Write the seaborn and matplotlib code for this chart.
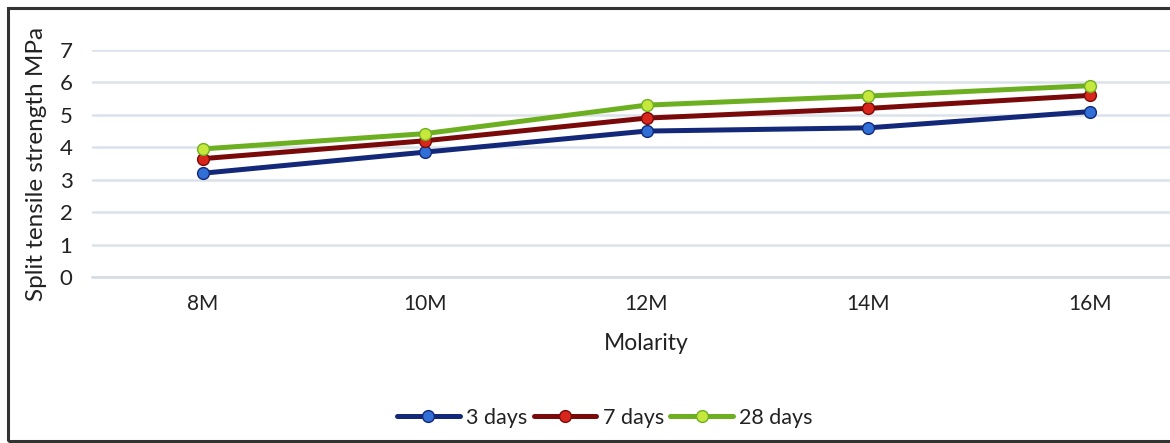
import pandas as pd
import seaborn as sns
import matplotlib.pyplot as plt
from matplotlib.patches import Rectangle
from matplotlib.ticker import FixedLocator

# chart data
molarity = ['8M', '10M', '12M', '14M', '16M']
days_3 = [3.2, 3.85, 4.5, 4.6, 5.1]
days_7 = [3.65, 4.2, 4.9, 5.2, 5.6]
days_28 = [3.95, 4.42, 5.3, 5.58, 5.9]
series_names = ['3 days', '7 days', '28 days']

df = pd.DataFrame({
    'Molarity': molarity * 3,
    'value': days_3 + days_7 + days_28,
    'series': sum([[s] * len(molarity) for s in series_names], []),
})

sns.set_style('white')
plt.rcParams['font.family'] = ['Lato', 'DejaVu Sans']

line_colors = {'3 days': '#14287a', '7 days': '#7a0a0a', '28 days': '#6cb021'}
marker_colors = {'3 days': '#2f6fd6', '7 days': '#d9261c', '28 days': '#c6e83c'}

fig = plt.figure(figsize=(11.7, 4.43), dpi=100)
ax = fig.add_axes([92 / 1170, 166 / 443, 1109 / 1170, 227 / 443])

for s in series_names:
    sns.lineplot(data=df[df['series'] == s], x='Molarity', y='value', ax=ax,
                 color=line_colors[s], linewidth=3.6, marker='o', markersize=8.5,
                 markerfacecolor=marker_colors[s], markeredgecolor=line_colors[s],
                 markeredgewidth=1.0, label=s, zorder=3)

ax.set_xlim(-0.5, 4.5)
ax.set_ylim(0, 7)
ax.set_yticks(range(0, 8))
ax.yaxis.grid(True, color='#dce2ea', linewidth=1.8)
ax.set_axisbelow(True)
for side in ['top', 'right', 'left']:
    ax.spines[side].set_visible(False)
ax.spines['bottom'].set_color('#d5dbe3')
ax.spines['bottom'].set_linewidth(1.8)

ax.tick_params(axis='x', which='major', length=0, pad=12, labelsize=15, labelcolor='#222222')
ax.xaxis.set_minor_locator(FixedLocator([-0.5, 0.5, 1.5, 2.5, 3.5]))
ax.tick_params(axis='x', which='minor', length=7, width=1.5, color='#c8d0da')
ax.tick_params(axis='y', length=0, pad=14, labelsize=16, labelcolor='#222222')

ax.set_xlabel('Molarity', fontsize=16.5, color='#222222', labelpad=14)
ax.set_ylabel('Split tensile strength MPa', fontsize=17.5, color='#222222', labelpad=9)

leg = ax.legend(loc='center', bbox_to_anchor=(605 / 1170, 25 / 443),
                bbox_transform=fig.transFigure, ncol=3, frameon=False,
                fontsize=15.5, handlelength=2.9, handletextpad=0.3, columnspacing=0.3,
                labelcolor='#222222')

# outer chart border
fig.patches.append(Rectangle((8 / 1170, 2 / 443), 1.2, 433 / 443, transform=fig.transFigure,
                             fill=False, edgecolor='#333333', linewidth=2.2))

fig.savefig('out.png', dpi=100)
